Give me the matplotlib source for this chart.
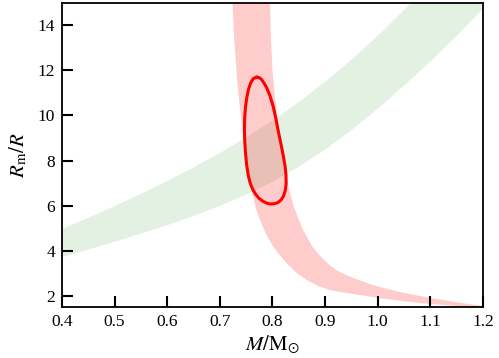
import numpy as np
import matplotlib.pyplot as plt

plt.rcParams["font.family"] = ["Liberation Serif", "DejaVu Serif"]
plt.rcParams["mathtext.fontset"] = "stix"

# green band (constraint 1): lower / upper edges vs mass
green_x = [0.40, 0.45, 0.50, 0.55, 0.60, 0.65, 0.70, 0.75, 0.80,
           0.85, 0.90, 0.95, 1.00, 1.05, 1.10, 1.15, 1.20]
green_lo = [3.75, 4.09, 4.44, 4.80, 5.17, 5.58, 6.03, 6.53, 7.10,
            7.76, 8.52, 9.38, 10.33, 11.35, 12.42, 13.55, 14.75]
green_up = [5.00, 5.50, 6.02, 6.56, 7.13, 7.73, 8.37, 9.06, 9.80,
            10.62, 11.52, 12.50, 13.56, 14.70, 15.90, 17.2, 18.5]

# red band (constraint 2): left/lower edge and right/upper edge
red_left_x = [0.7236, 0.727, 0.731, 0.735, 0.740, 0.745, 0.751, 0.758, 0.767,
              0.776, 0.787, 0.800, 0.813, 0.827, 0.845, 0.865, 0.887, 0.909,
              0.935, 0.966, 1.00, 1.05, 1.10, 1.15, 1.20]
red_left_y = [15.2, 13.5, 12.2, 11.0, 10.0, 9.0, 8.0, 7.0, 6.0,
              5.4, 4.8, 4.25, 3.85, 3.46, 3.05, 2.72, 2.46, 2.28,
              2.17, 2.06, 1.93, 1.78, 1.66, 1.57, 1.50]
red_right_x = [0.795, 0.797, 0.800, 0.804, 0.809, 0.815, 0.821, 0.829, 0.840,
               0.848, 0.857, 0.866, 0.876, 0.890, 0.905, 0.922, 0.942, 0.966,
               1.00, 1.05, 1.10, 1.15, 1.20]
red_right_y = [15.2, 13.5, 12.0, 11.0, 10.0, 9.0, 8.0, 7.0, 6.0,
               5.5, 5.0, 4.6, 4.2, 3.8, 3.45, 3.15, 2.92, 2.70,
               2.43, 2.15, 1.93, 1.74, 1.57]

# joint confidence contour
cont_x = [0.7700, 0.7750, 0.7795, 0.7840, 0.7890, 0.7950, 0.8016, 0.8065,
          0.8110, 0.8160, 0.8205, 0.8240, 0.8257, 0.8260, 0.8245, 0.8210,
          0.8160, 0.8100, 0.8030, 0.7960, 0.7890, 0.7820, 0.7750, 0.7690,
          0.7630, 0.7580, 0.7540, 0.7510, 0.7490, 0.7475, 0.7467, 0.7470,
          0.7485, 0.7510, 0.7545, 0.7590, 0.7640, 0.7700]
cont_y = [11.68, 11.66, 11.58, 11.42, 11.22, 10.88, 10.38, 9.85,
          9.30, 8.75, 8.22, 7.75, 7.35, 7.00, 6.70, 6.43,
          6.25, 6.14, 6.09, 6.08, 6.12, 6.20, 6.32, 6.48,
          6.70, 6.98, 7.35, 7.80, 8.30, 8.80, 9.30, 9.80,
          10.30, 10.75, 11.15, 11.45, 11.63, 11.68]

fig = plt.figure(figsize=(4.99, 3.58), dpi=100)
ax = fig.add_axes([0.124, 0.1425, 0.844, 0.849])

ax.fill_between(green_x, green_lo, green_up, color="green", alpha=0.11,
                linewidth=0)
ax.fill(
    np.concatenate([red_left_x, red_right_x[::-1]]),
    np.concatenate([red_left_y, red_right_y[::-1]]),
    color="red", alpha=0.2, linewidth=0,
)
ax.plot(cont_x, cont_y, color="red", linewidth=2.2, solid_joinstyle="round")

ax.set_xlim(0.4, 1.2)
ax.set_ylim(1.53, 14.96)
ax.set_xticks(np.arange(0.4, 1.21, 0.1))
ax.set_yticks([2, 4, 6, 8, 10, 12, 14])
ax.xaxis.set_major_formatter(plt.FormatStrFormatter("%.1f"))

ax.tick_params(direction="in", length=8, width=1.5, labelsize=12.5,
               top=False, right=False, pad=5)
for s in ax.spines.values():
    s.set_linewidth(1.3)

ax.set_xlabel(r"$M/{\rm M}_{\odot}$", fontsize=15, labelpad=3)
ax.set_ylabel(r"$R_{\rm m}/R$", fontsize=15, labelpad=6)

fig.savefig("out.png", dpi=100)
plt.close()
